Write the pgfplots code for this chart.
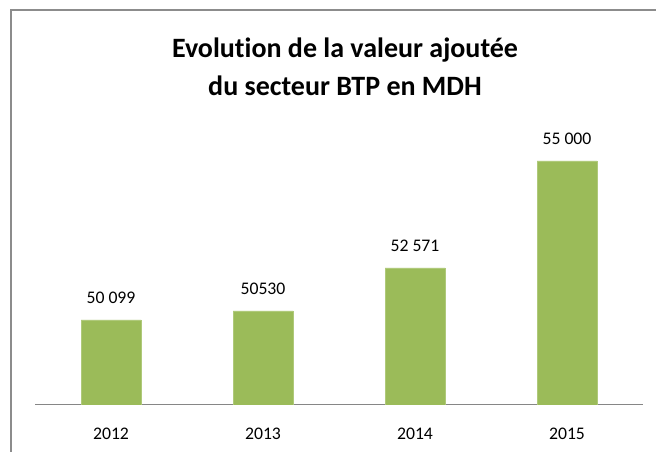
\documentclass[border=0pt]{standalone}
\usepackage{pgfplots}
\pgfplotsset{compat=1.18}
\usepackage{fontspec}
\setmainfont[Ligatures=NoCommon]{Carlito}
\definecolor{bargreen}{HTML}{9BBB59}
\definecolor{framegray}{HTML}{8C8C8C}
\definecolor{axgray}{HTML}{868686}
\begin{document}
\begin{tikzpicture}[x=1pt,y=1pt]
\useasboundingbox (0,0) rectangle (656,452);
\draw[framegray, line width=1.6pt] (11,0) -- (11,442) -- (656,442);
\node[align=center, font=\fontsize{28}{38}\selectfont\bfseries] at (345,385) {Evolution de la valeur ajoutée\\du secteur BTP en MDH};
\begin{axis}[
  at={(35pt,47pt)}, anchor=south west,
  scale only axis, width=608pt, height=285pt,
  xmin=-0.5, xmax=3.5, ymin=47000, ymax=56344,
  axis x line=bottom, axis y line=none,
  axis line style={axgray, line width=1pt, -},
  xtick=data, xticklabels={2012,2013,2014,2015},
  major tick length=0pt,
  ytick=\empty,
  xticklabel style={font=\fontsize{17.7}{21}\selectfont, yshift=-19pt},
  ybar, bar width=60pt,
  nodes near coords,
  point meta=explicit symbolic,
  nodes near coords style={font=\fontsize{17.7}{21}\selectfont, anchor=center, yshift=22pt, text=black},
]
\addplot[fill=bargreen, draw=bargreen!80!white, line width=0.5pt] coordinates {
  (0,49787) [50 099]
  (1,50082) [50530]
  (2,51492) [52 571]
  (3,55000) [55 000]
};
\end{axis}
\end{tikzpicture}
\end{document}
